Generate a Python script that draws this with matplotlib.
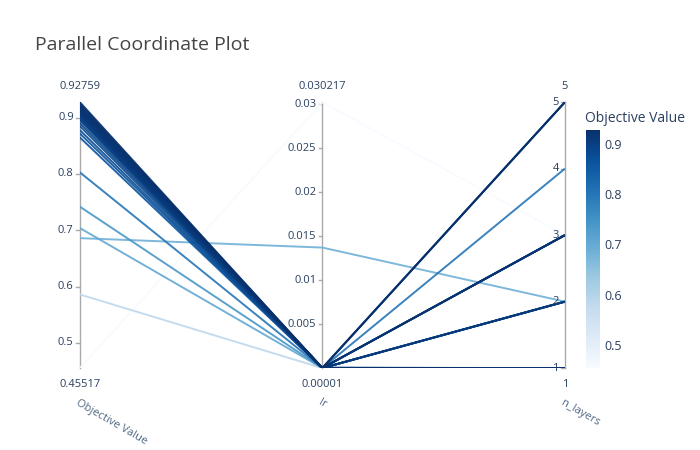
import numpy as np
import matplotlib.pyplot as plt
from matplotlib import cm, colors

plt.rcParams['font.family'] = ['Open Sans', 'DejaVu Sans']

# trial values
objective = [0.92759, 0.925, 0.922, 0.920, 0.918, 0.916, 0.915, 0.913, 0.912, 0.910,
             0.908, 0.906, 0.905, 0.903, 0.900, 0.898, 0.895, 0.890, 0.885, 0.878,
             0.872, 0.865, 0.803, 0.742, 0.704, 0.686, 0.586, 0.45517]
lr = [0.00001, 0.00002, 0.00001, 0.00003, 0.00001, 0.00002, 0.00001, 0.00004, 0.00001, 0.00002,
      0.00001, 0.00003, 0.00001, 0.00002, 0.00001, 0.00005, 0.00001, 0.00002, 0.00001, 0.00003,
      0.00001, 0.00002, 0.00001, 0.00002, 0.00001, 0.0137, 0.00001, 0.030217]
n_layers = [5, 1, 3, 1, 5, 3, 1, 1, 2, 3,
            1, 5, 1, 3, 2, 1, 1, 3, 2, 1,
            2, 1, 4, 2, 2, 2, 2, 3]
names = ['Objective Value', 'lr', 'n_layers']
ranges = [(0.45517, 0.92759), (0.00001, 0.030217), (1, 5)]
ticks = [[0.5, 0.6, 0.7, 0.8, 0.9],
         [0.005, 0.01, 0.015, 0.02, 0.025, 0.03],
         [1, 2, 3, 4, 5]]
tick_labels = [['0.5', '0.6', '0.7', '0.8', '0.9'],
               ['0.005', '0.01', '0.015', '0.02', '0.025', '0.03'],
               ['1', '2', '3', '4', '5']]
end_labels = [('0.45517', '0.92759'), ('0.00001', '0.030217'), ('1', '5')]

txt = '#2a3f5f'
fig = plt.figure(figsize=(7, 4.5), dpi=100)
ax = fig.add_axes([0.114, 0.182, 0.693, 0.591])
ax.set_xlim(0, 2)
ax.set_ylim(0, 1)
ax.axis('off')

cmap = plt.get_cmap('Blues')
norm = colors.Normalize(vmin=ranges[0][0], vmax=ranges[0][1])

def scale(v, r):
    return (v - r[0]) / (r[1] - r[0])

order = np.argsort(objective)
for i in order:
    ys = [scale(objective[i], ranges[0]), scale(lr[i], ranges[1]), scale(n_layers[i], ranges[2])]
    ax.plot([0, 1, 2], ys, color=cmap(norm(objective[i])), lw=1.4, alpha=0.9,
            solid_capstyle='butt', zorder=2)

for k in range(3):
    ax.plot([k, k], [0, 1], color='#aaaaaa', lw=1, zorder=1, clip_on=False)
    for t, lab in zip(ticks[k], tick_labels[k]):
        y = scale(t, ranges[k])
        ax.plot([k - 0.015, k], [y, y], color='#aaaaaa', lw=1, zorder=1, clip_on=False)
        ax.text(k - 0.025, y, lab, ha='right', va='center', fontsize=8, color=txt)
    ax.text(k, -0.04, end_labels[k][0], ha='center', va='top', fontsize=8, color=txt)
    ax.text(k, 1.04, end_labels[k][1], ha='center', va='bottom', fontsize=8, color=txt)
    ax.text(k, -0.11, names[k], ha='left', va='top', fontsize=8, color='#506784',
            rotation=-30, rotation_mode='anchor')

cax = fig.add_axes([0.837, 0.182, 0.02, 0.53])
cb = fig.colorbar(cm.ScalarMappable(norm=norm, cmap=cmap), cax=cax)
cb.outline.set_visible(False)
cb.set_ticks([0.5, 0.6, 0.7, 0.8, 0.9])
cb.ax.tick_params(labelsize=9, colors=txt, length=0)
fig.text(0.836, 0.73, 'Objective Value', fontsize=10, color=txt)
fig.text(0.05, 0.89, 'Parallel Coordinate Plot', fontsize=14, color='#444444')

fig.savefig('out.png', dpi=100)
